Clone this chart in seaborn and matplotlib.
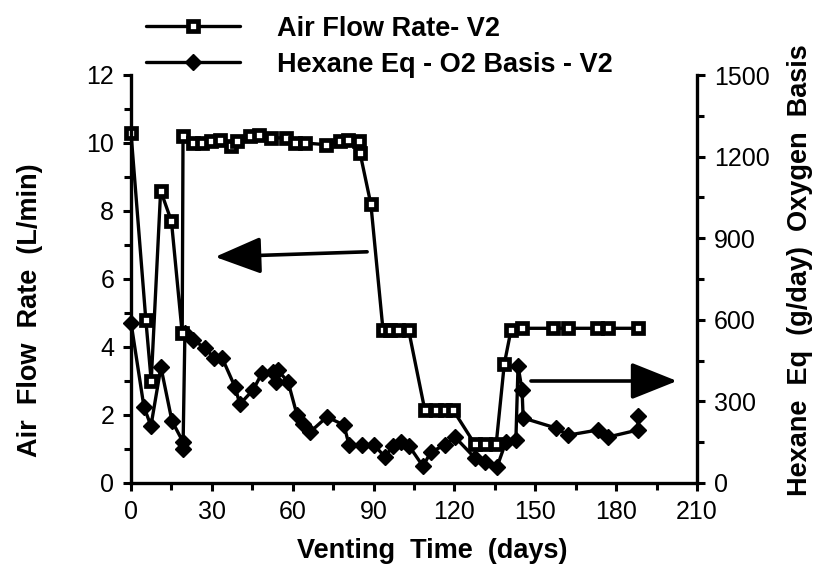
import numpy as np
import pandas as pd
import matplotlib
matplotlib.use("Agg")
import matplotlib.pyplot as plt
from matplotlib.lines import Line2D
import seaborn as sns

# ---- data ----
air_days = [0, 5.5, 7.5, 11, 15, 19, 19.3, 23, 26.3, 29.7, 33, 37, 39.5, 44, 47.5,
            52, 57.5, 61, 64.5, 72.5, 77.5, 80.5, 84.5, 85, 89, 93.5, 96, 99, 103,
            109, 113, 116.5, 119.5, 127.5, 131.5, 135.5, 138.5, 141, 145, 156.5,
            162, 173, 177, 188]
air_flow = [10.3, 4.8, 3.0, 8.6, 7.7, 4.4, 10.2, 10.0, 10.0, 10.05, 10.1, 9.9, 10.05,
            10.2, 10.25, 10.15, 10.15, 10.0, 10.0, 9.95, 10.05, 10.1, 10.05, 9.7, 8.2,
            4.5, 4.5, 4.5, 4.5, 2.15, 2.15, 2.15, 2.15, 1.15, 1.15, 1.15, 3.5, 4.5,
            4.55, 4.55, 4.55, 4.55, 4.55, 4.55]

hex_days = [0, 4.8, 7.4, 11.1, 15.2, 19.3, 19.3, 20, 23, 27.5, 30.8, 33.8, 38.6, 40.4,
            45.3, 48.6, 52.7, 53.8, 54.5, 58.3, 61.6, 63.8, 66.4, 72.7, 79, 80.9,
            85.7, 90.2, 94.2, 97.2, 100.2, 103.2, 108.3, 111.3, 116.5, 120.2, 127.6,
            131.4, 135.8, 139.1, 142.8, 143.6, 145.1, 145.5, 157.7, 162.2, 173.3,
            177, 188.1, 188.1]
hex_eq = [590, 280, 210, 426, 228, 151, 125, 551, 526, 496, 460, 460, 353, 290,
          342, 404, 408, 371, 415, 371, 250, 217, 187, 243, 213, 140,
          140, 140, 96, 136, 151, 136, 62, 114, 140, 169, 92,
          77, 59, 151, 158, 430, 342, 239, 202, 176, 195,
          169, 195, 246]

x_ticks = [0, 30, 60, 90, 120, 150, 180, 210]
left_ticks = [0, 2, 4, 6, 8, 10, 12]
right_ticks = [0, 300, 600, 900, 1200, 1500]

air_label = "Air Flow Rate- V2"
hex_label = "Hexane Eq - O2 Basis - V2"

sns.set_style("ticks")
plt.rcParams['font.family'] = ['Liberation Sans', 'DejaVu Sans']
plt.rcParams['text.color'] = 'black'
plt.rcParams['axes.labelcolor'] = 'black'
plt.rcParams['xtick.color'] = 'black'
plt.rcParams['ytick.color'] = 'black'
plt.rcParams['axes.edgecolor'] = 'black'
for k in ('xtick.major.width', 'ytick.major.width', 'xtick.minor.width', 'ytick.minor.width'):
    plt.rcParams[k] = 2.2

fig = plt.figure(figsize=(8.17, 5.71), dpi=100)
ax = fig.add_axes([131/817, 1-483/571, (697-131)/817, (483-75)/571])
ax2 = ax.twinx()

df_air = pd.DataFrame({"day": air_days, "val": air_flow})
df_hex = pd.DataFrame({"day": hex_days, "val": hex_eq})

sq_style = dict(marker='s', markersize=6.5, markerfacecolor='white',
                markeredgecolor='black', markeredgewidth=3.4)
dm_style = dict(marker='D', markersize=8.5, markerfacecolor='black',
                markeredgecolor='black', markeredgewidth=1)

sns.lineplot(data=df_hex, x="day", y="val", ax=ax2, estimator=None, sort=False,
             color='black', linewidth=2.4, clip_on=False, **dm_style)
sns.lineplot(data=df_air, x="day", y="val", ax=ax, estimator=None, sort=False,
             color='black', linewidth=2.4, clip_on=False, **sq_style)

ax.set_zorder(ax2.get_zorder() + 1)
ax.patch.set_visible(False)

ax.set_xlim(0, 210)
ax.set_ylim(0, 12)
ax2.set_ylim(0, 1500)
ax.set_xticks(x_ticks)
ax.set_xticks(np.arange(15, 210, 30), minor=True)
ax.set_yticks(left_ticks)
ax.set_yticks(np.arange(1, 12, 2), minor=True)
ax2.set_yticks(right_ticks)
ax2.set_yticks(np.arange(150, 1500, 300), minor=True)

for a in (ax, ax2):
    a.spines['top'].set_visible(False)
    for s in a.spines.values():
        s.set_linewidth(2.4)
    a.tick_params(which='major', length=6, labelsize=18, direction='out', pad=6)
    a.tick_params(which='minor', length=5, direction='out')
ax.spines['right'].set_visible(False)
ax2.spines['left'].set_visible(False)
ax2.spines['bottom'].set_visible(False)

bold = dict(fontsize=19.5, fontweight='bold')
ax.set_xlabel("Venting  Time  (days)", **bold)
ax.set_ylabel("Air  Flow  Rate  (L/min)", va='center', **bold)
ax2.set_ylabel("Hexane  Eq  (g/day)  Oxygen  Basis", va='center', rotation=90, **bold)
ax.xaxis.set_label_coords(0.532, -0.135)
ax.yaxis.set_label_coords(-0.178, 0.424)
ax2.yaxis.set_label_coords(1.182, 0.522)

arrow = dict(arrowstyle='-|>,head_length=1.5,head_width=0.6', lw=2.6,
             color='black', mutation_scale=19, shrinkA=0, shrinkB=0)
ax.annotate("", xy=(31.2, 6.65), xytext=(87.6, 6.8), arrowprops=arrow)
ax.annotate("", xy=(202.6, 3.0), xytext=(148.4, 3.0), arrowprops=arrow)

h1 = Line2D([], [], color='black', linewidth=2.4, **sq_style)
h2 = Line2D([], [], color='black', linewidth=2.4, **dm_style)
fig.legend([h1, h2], [air_label, hex_label], loc='upper left',
           bbox_to_anchor=(132/817, 1 - 2/571), frameon=False, borderpad=0,
           handlelength=3.5, handletextpad=1.35, labelspacing=0.38,
           prop=dict(size=19.5, weight='bold'))

fig.savefig("out.png", dpi=100)
